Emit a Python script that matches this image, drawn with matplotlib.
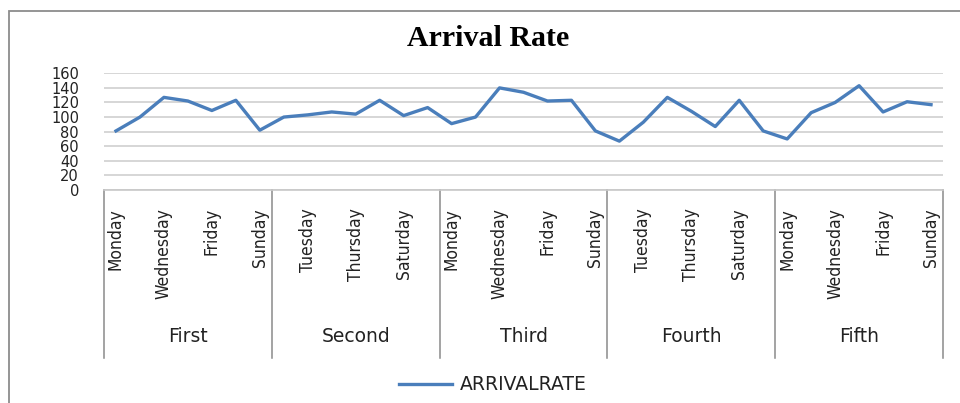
import matplotlib
matplotlib.use("Agg")
import matplotlib.pyplot as plt
from matplotlib import font_manager
from matplotlib.patches import Rectangle
import matplotlib.transforms as mtransforms

weeks = ["First", "Second", "Third", "Fourth", "Fifth"]
days = ["Monday", "Tuesday", "Wednesday", "Thursday", "Friday", "Saturday", "Sunday"]
arrival_rate = [81, 100, 127, 122, 109, 123, 82,
                100, 103, 107, 104, 123, 102, 113,
                91, 100, 140, 134, 122, 123, 81,
                67, 93, 127, 108, 87, 123, 81,
                70, 106, 120, 143, 107, 121, 117]
y_ticks = [0, 20, 40, 60, 80, 100, 120, 140, 160]
series_name = "ARRIVALRATE"
title = "Arrival Rate"

def pick(fams, default):
    for f in fams:
        try:
            font_manager.findfont(font_manager.FontProperties(family=f), fallback_to_default=False)
            return f
        except Exception:
            pass
    return default

serif = pick(["Liberation Serif"], "DejaVu Serif")
narrow_file = None
for f in font_manager.fontManager.ttflist:
    nm = (f.name + " " + f.fname).lower()
    if ("narrow" in nm or "condensed" in nm) and "bold" not in nm and "oblique" not in nm and "italic" not in nm:
        narrow_file = f.fname
        break
if narrow_file:
    day_fp = font_manager.FontProperties(fname=narrow_file, size=12.5)
else:
    day_fp = font_manager.FontProperties(family="DejaVu Sans", size=11.5)

W, H = 960, 403
fig = plt.figure(figsize=(W / 100, H / 100), dpi=100)
fig.patch.set_facecolor("white")

fig.patches.append(Rectangle((9 / W, -0.05), 1.2, (H - 11) / H + 0.05, transform=fig.transFigure,
                             fill=False, edgecolor="#8c8c8c", linewidth=1.3))

left, right = 104, 943
y0_px, ytop_px = 190, 73.3
ax = fig.add_axes([left / W, (H - y0_px) / H, (right - left) / W, (y0_px - ytop_px) / H])

n = len(arrival_rate)
xs = [i + 0.5 for i in range(n)]
ax.plot(xs, arrival_rate, color="#4A7EBB", linewidth=2.4, label=series_name)
ax.set_xlim(0, n)
ax.set_ylim(0, 160)

for s in ["top", "right", "left"]:
    ax.spines[s].set_visible(False)
ax.spines["bottom"].set_color("#c8c8c8")
ax.spines["bottom"].set_linewidth(1.2)

ax.set_yticks(y_ticks)
ax.set_yticklabels([str(v) for v in y_ticks], fontsize=10.5, family="DejaVu Sans", color="#222222")
ax.yaxis.grid(True, color="#d0d0d0", linewidth=1.2)
ax.set_axisbelow(True)

labels_all = [days[i % 7] for i in range(n)]
tick_pos = [xs[i] for i in range(0, n, 2)]
ax.set_xticks(tick_pos)
ax.set_xticklabels([labels_all[i] for i in range(0, n, 2)], rotation=90,
                   fontproperties=day_fp, color="#222222", va="top", ha="center")
ax.tick_params(axis="x", length=0, pad=13)
ax.tick_params(axis="y", length=0, pad=18)

ax_h_px = y0_px - ytop_px
def axfrac(px):
    return (y0_px - px) / ax_h_px

trans = mtransforms.blended_transform_factory(ax.transData, ax.transAxes)
for k in range(len(weeks) + 1):
    ax.plot([k * 7, k * 7], [0, axfrac(358)], transform=trans, color="#8a8a8a",
            linewidth=1.1, clip_on=False)
for k, w in enumerate(weeks):
    ax.text(k * 7 + 3.5, axfrac(337), w, transform=trans, ha="center", va="center",
            fontsize=13.5, family="DejaVu Sans", color="#222222")

fig.text(488 / W, (H - 39) / H, title, ha="center", va="center", fontsize=21.5,
         fontweight="bold", family=serif, color="black")

leg = ax.legend(loc="center", bbox_to_anchor=(493 / W, (H - 385) / H),
                bbox_transform=fig.transFigure, frameon=False, fontsize=13.5,
                handlelength=2.8, handletextpad=0.45, borderpad=0)
for t in leg.get_texts():
    t.set_color("#222222")

fig.savefig("out.png", dpi=100)
